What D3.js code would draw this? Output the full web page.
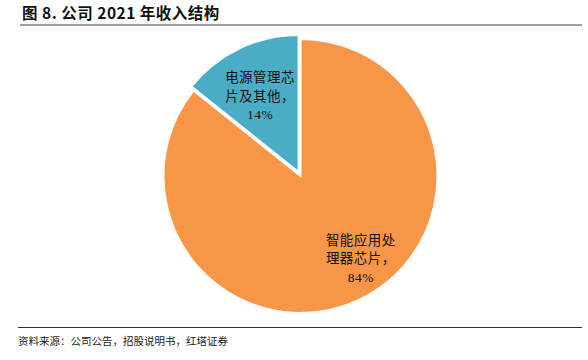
<!DOCTYPE html>
<html>
<head>
<meta charset="utf-8">
<script src="https://cdn.jsdelivr.net/npm/d3@7/dist/d3.min.js"></script>
<style>
  body { margin: 0; background: #fff; }
  svg { display: block; }
</style>
</head>
<body>
<div id="chart"></div>
<script>
// 数据
var categories = ['智能应用处理器芯片', '电源管理芯片及其他'];
var values = [84, 14];
var labelLines = [['智能应用处', '理器芯片，', '84%'], ['电源管理芯', '片及其他，', '14%']];
var colors = ['#F79646', '#4BACC6'];

var width = 588, height = 360;
var cx = 300.5, cy = 176, radius = 137;

var svg = d3.select('#chart')
    .append('svg')
    .attr('width', width)
    .attr('height', height);

// 标题
svg.append('text')
    .attr('x', 22)
    .attr('y', 19)
    .attr('font-family', 'Noto Sans CJK SC, sans-serif')
    .attr('font-size', 15.5)
    .attr('font-weight', 'bold')
    .attr('letter-spacing', 0.5)
    .attr('fill', '#111')
    .text('图 8. 公司 2021 年收入结构');

svg.append('line')
    .attr('x1', 20).attr('x2', 582)
    .attr('y1', 25).attr('y2', 25)
    .attr('stroke', '#808080')
    .attr('stroke-width', 1.6);

var pie = d3.pie().sort(null).value(function (d) { return d; });
var arcs = pie(values);

var arc = d3.arc().innerRadius(0).outerRadius(radius);
var explode = [0, 4.5];

var g = svg.append('g').attr('transform', 'translate(' + cx + ',' + cy + ')');

g.selectAll('path')
    .data(arcs)
    .enter()
    .append('path')
    .attr('d', arc)
    .attr('transform', function (d, i) {
        var a = (d.startAngle + d.endAngle) / 2;
        return 'translate(' + (Math.sin(a) * explode[i]) + ',' + (-Math.cos(a) * explode[i]) + ')';
    })
    .attr('fill', function (d, i) { return colors[i]; })
    .attr('stroke', '#fff')
    .attr('stroke-width', 2);

// 标签
var labelArc = d3.arc().innerRadius(0).outerRadius(200);
var labelShift = [[17, -8], [3, 10]];
var lineH = 18.5;

arcs.forEach(function (d, i) {
    var c = labelArc.centroid(d);
    var x = c[0] + labelShift[i][0];
    var y = c[1] + labelShift[i][1];
    var t = g.append('text')
        .attr('text-anchor', 'middle')
        .attr('font-family', 'Liberation Serif, Noto Sans CJK SC, serif')
        .attr('font-size', 13.5)
        .attr('letter-spacing', 0.5)
        .attr('fill', '#111');
    labelLines[i].forEach(function (s, k) {
        t.append('tspan')
            .attr('x', x)
            .attr('y', y + (k - 1) * lineH + 5)
            .text(s);
    });
});

// 资料来源
svg.append('line')
    .attr('x1', 18).attr('x2', 582)
    .attr('y1', 327.5).attr('y2', 327.5)
    .attr('stroke', '#333')
    .attr('stroke-width', 1);

svg.append('text')
    .attr('x', 18)
    .attr('y', 345)
    .attr('font-family', 'Noto Sans CJK SC, sans-serif')
    .attr('font-size', 10.5)
    .attr('fill', '#222')
    .text('资料来源：公司公告，招股说明书，红塔证券');
</script>
</body>
</html>
